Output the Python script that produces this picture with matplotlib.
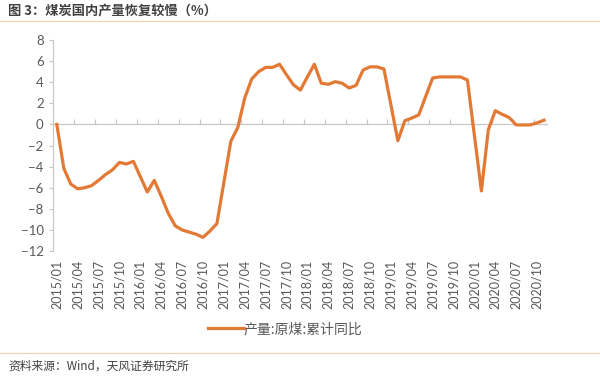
import matplotlib
matplotlib.use("Agg")
import matplotlib.pyplot as plt
import numpy as np

plt.rcParams['font.family'] = ['Noto Sans CJK SC', 'DejaVu Sans']

# Monthly categories 2015/01 .. 2020/11
months = [f"{y}/{m:02d}" for y in range(2015, 2021) for m in range(1, 13)][:71]

# 产量:原煤:累计同比 (%)
coal_yoy = [
    0.0, -4.15, -5.65, -6.1, -6.0, -5.8, -5.3, -4.75, -4.3, -3.6, -3.75, -3.5,   # 2015
    -4.95, -6.4, -5.3, -6.8, -8.4, -9.6, -10.0, -10.2, -10.4, -10.7, -10.1, -9.4,  # 2016
    -5.5, -1.6, -0.3, 2.5, 4.3, 5.0, 5.4, 5.4, 5.7, 4.7, 3.75, 3.25,              # 2017
    4.5, 5.7, 3.9, 3.8, 4.05, 3.9, 3.45, 3.7, 5.15, 5.45, 5.45, 5.25,             # 2018
    1.85, -1.55, 0.35, 0.6, 0.9, 2.65, 4.4, 4.5, 4.5, 4.5, 4.5, 4.2,              # 2019
    -1.05, -6.3, -0.5, 1.3, 0.95, 0.65, -0.05, -0.05, -0.05, 0.15, 0.4,           # 2020
]

title = "图 3：煤炭国内产量恢复较慢（%）"
legend_label = "产量:原煤:累计同比"
source = "资料来源：Wind，天风证券研究所"

line_color = "#E27A36"
axis_color = "#C8C8C8"
text_color = "#595959"
sep_color = "#F4CFA8"

fig = plt.figure(figsize=(6.0, 3.77), dpi=100)
ax = fig.add_axes([0.0889, 0.334, 0.9125 - 0.0889, 0.894 - 0.334])

x = np.arange(len(coal_yoy))
ax.axhline(0, color=axis_color, linewidth=0.9, zorder=1)
ax.plot(x, coal_yoy, color=line_color, linewidth=2.3, label=legend_label,
        solid_joinstyle="round", zorder=3)

ax.set_xlim(-0.5, 70.5)
ax.set_ylim(-12, 8)
ax.set_yticks(np.arange(-12, 9, 2))

# category labels every 3 months, rotated
ax.set_xticks(x[::3])
ax.set_xticklabels(months[::3], rotation=90, fontsize=9, color=text_color,
                   family=['Lato', 'DejaVu Sans'])
ax.tick_params(axis='x', length=0, pad=6)
ax.tick_params(axis='y', length=3, color=axis_color, labelsize=9.5,
               labelcolor=text_color, pad=4)
for lab in ax.get_yticklabels():
    lab.set_family(['Lato', 'DejaVu Sans'])

for s in ['top', 'right', 'bottom']:
    ax.spines[s].set_visible(False)
ax.spines['left'].set_color(axis_color)
ax.spines['left'].set_linewidth(0.9)

# tick marks on the zero line, between categories
zero_ax = ax.secondary_xaxis(12 / 20)
zero_ax.set_xticks(np.arange(2.5, 71, 3))
zero_ax.set_xticklabels([])
zero_ax.tick_params(axis='x', direction='out', length=3.5, width=0.9,
                    color=axis_color)
for s in zero_ax.spines.values():
    s.set_visible(False)

leg = fig.legend(loc='center', bbox_to_anchor=(0.475, 1 - 329 / 377), frameon=False,
                 fontsize=10, handlelength=2.6, handletextpad=0.0)
for t in leg.get_texts():
    t.set_color(text_color)

fig.text(8 / 600, 1 - 10 / 377, title, fontsize=9.5, fontweight='bold',
         color="#404040", ha='left', va='center')
fig.text(8 / 600, 1 - 366 / 377, source, fontsize=8.5, color="#404040",
         ha='left', va='center')

fig.add_artist(plt.Line2D([0, 1], [1 - 21 / 377, 1 - 21 / 377],
                          transform=fig.transFigure, color=sep_color, linewidth=0.8))
fig.add_artist(plt.Line2D([0, 1], [1 - 353 / 377, 1 - 353 / 377],
                          transform=fig.transFigure, color=sep_color, linewidth=0.8))

fig.savefig("out.png", dpi=100)
